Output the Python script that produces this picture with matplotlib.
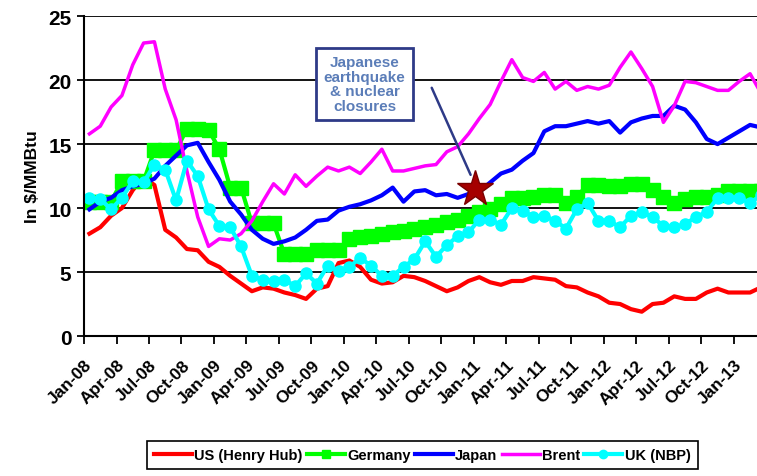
import numpy as np
import matplotlib
matplotlib.use('Agg')
import matplotlib.pyplot as plt

plt.rcParams['font.family'] = ['Liberation Sans', 'DejaVu Sans']

# monthly prices, Jan-08 .. Mar-13 ($/MMBtu)
us_henry_hub = [8.0, 8.5, 9.4, 10.0, 11.4, 12.4, 11.8, 8.3, 7.7, 6.8, 6.7, 5.8,
                5.4, 4.7, 4.1, 3.5, 3.8, 3.7, 3.4, 3.2, 2.9, 3.7, 3.9, 5.7,
                5.9, 5.4, 4.4, 4.1, 4.2, 4.7, 4.6, 4.3, 3.9, 3.5, 3.8, 4.3,
                4.6, 4.2, 4.0, 4.3, 4.3, 4.6, 4.5, 4.4, 3.9, 3.8, 3.4, 3.1,
                2.6, 2.5, 2.1, 1.9, 2.5, 2.6, 3.1, 2.9, 2.9, 3.4, 3.7, 3.4,
                3.4, 3.4, 3.8]
germany = [10.5, 10.5, 10.5, 12.1, 12.1, 12.1, 14.5, 14.5, 14.5, 16.2, 16.2, 16.1,
           14.6, 11.6, 11.6, 8.8, 8.8, 8.8, 6.4, 6.4, 6.4, 6.7, 6.7, 6.7,
           7.6, 7.7, 7.8, 8.0, 8.1, 8.2, 8.4, 8.5, 8.7, 8.9, 9.1, 9.4,
           9.7, 9.9, 10.3, 10.8, 10.8, 10.9, 11.0, 11.0, 10.4, 10.9, 11.8, 11.8,
           11.7, 11.7, 11.9, 11.9, 11.4, 10.9, 10.4, 10.7, 10.9, 10.9, 11.0, 11.3,
           11.3, 11.3, 11.3]
japan = [9.9, 10.5, 10.8, 11.4, 11.7, 11.9, 12.3, 13.3, 14.1, 14.9, 15.1, 13.6,
         12.2, 10.5, 9.5, 8.3, 7.6, 7.2, 7.4, 7.7, 8.3, 9.0, 9.1, 9.8,
         10.1, 10.3, 10.6, 11.0, 11.6, 10.5, 11.3, 11.4, 11.0, 11.1, 10.8, 11.1,
         11.3, 12.0, 12.7, 13.0, 13.7, 14.3, 16.0, 16.4, 16.4, 16.6, 16.8, 16.6,
         16.8, 15.9, 16.7, 17.0, 17.2, 17.2, 18.0, 17.7, 16.7, 15.4, 15.0, 15.5,
         16.0, 16.5, 16.3]
brent = [15.8, 16.4, 17.9, 18.8, 21.2, 22.9, 23.0, 19.3, 16.9, 12.9, 9.3, 7.0,
         7.6, 7.5, 8.0, 9.0, 10.5, 11.9, 11.1, 12.6, 11.7, 12.5, 13.2, 12.9,
         13.2, 12.7, 13.6, 14.6, 12.9, 12.9, 13.1, 13.3, 13.4, 14.4, 14.8, 15.8,
         17.0, 18.1, 19.9, 21.6, 20.2, 19.9, 20.6, 19.3, 19.9, 19.2, 19.5, 19.3,
         19.6, 21.0, 22.2, 20.9, 19.5, 16.7, 18.0, 19.9, 19.8, 19.5, 19.2, 19.2,
         19.9, 20.5, 19.0]
uk_nbp = [10.8, 10.7, 9.9, 10.8, 12.1, 12.0, 13.4, 13.0, 10.6, 13.7, 12.5, 9.9,
          8.6, 8.5, 7.0, 4.7, 4.4, 4.3, 4.4, 3.9, 4.9, 4.1, 5.5, 5.1,
          5.4, 6.1, 5.5, 4.7, 4.7, 5.4, 6.0, 7.4, 6.2, 7.1, 7.8, 8.1,
          9.1, 9.1, 8.7, 10.0, 9.8, 9.3, 9.4, 9.0, 8.4, 9.9, 10.4, 9.0,
          9.0, 8.5, 9.4, 9.7, 9.3, 8.6, 8.5, 8.75, 9.3, 9.7, 10.8, 10.8,
          10.8, 10.4, 11.0]

tick_labels = ['Jan-08', 'Apr-08', 'Jul-08', 'Oct-08', 'Jan-09', 'Apr-09', 'Jul-09',
               'Oct-09', 'Jan-10', 'Apr-10', 'Jul-10', 'Oct-10', 'Jan-11', 'Apr-11',
               'Jul-11', 'Oct-11', 'Jan-12', 'Apr-12', 'Jul-12', 'Oct-12', 'Jan-13']

# earthquake marker (month index, price)
event_month = 35.6
event_value = 11.5
event_text = 'Japanese\nearthquake\n& nuclear\nclosures'

months = np.arange(len(us_henry_hub))

fig = plt.figure(figsize=(7.57, 4.77), dpi=100)
ax = fig.add_axes([0.111, 0.2935, 0.889, 0.6705])

ax.plot(months, us_henry_hub, color='#FF0000', lw=3, label='US (Henry Hub)')
ax.plot(months, germany, color='#00FF00', lw=3, marker='s', ms=10, label='Germany')
ax.plot(months, japan, color='#0000FF', lw=3, label='Japan')
ax.plot(months, brent, color='#FF00FF', lw=2.5, label='Brent')
ax.plot(months, uk_nbp, color='#00FFFF', lw=3, marker='o', ms=8, label='UK (NBP)')

ax.plot(event_month, event_value, marker='*', ms=27, color='#A50000',
        markeredgecolor='#7A0000', zorder=5)

ax.set_ylim(0, 25)
ax.set_xlim(-0.5, 61.64)
ax.set_yticks([0, 5, 10, 15, 20, 25])
ax.set_xticks(np.arange(0, 61, 3) - 0.5)
ax.set_xticklabels(tick_labels, rotation=45, ha='right', rotation_mode='anchor',
                   fontsize=12.5, fontweight='bold')
for t in ax.get_yticklabels():
    t.set_fontsize(15)
    t.set_fontweight('bold')
ax.grid(axis='y', color='black', lw=1.3)
ax.set_axisbelow(True)
ax.tick_params(axis='x', length=6, width=1.3, pad=9)
ax.tick_params(axis='y', length=5, width=1.3, pad=4)
for s in ['top', 'right']:
    ax.spines[s].set_visible(False)
ax.spines['left'].set_linewidth(1.5)
ax.spines['bottom'].set_linewidth(1.5)
ax.set_ylabel('In $/MMBtu', fontsize=12.5, fontweight='bold', labelpad=6)

# callout
ax.annotate('', xy=(35.3, 12.4), xytext=(31.5, 19.6),
            arrowprops=dict(arrowstyle='-', color='#2E3A87', lw=1.8))
ax.text(25.4, 19.7, event_text, ha='center', va='center', fontsize=11,
        fontweight='bold', color='#5B7DB8', linespacing=1.05,
        bbox=dict(boxstyle='square,pad=0.5', fc='white', ec='#2E3A87', lw=2))

leg = fig.legend(loc='center', bbox_to_anchor=(0.558, 0.044), ncol=5,
                 fancybox=False, edgecolor='black', framealpha=1,
                 handlelength=2.6, handletextpad=0.15, columnspacing=0.3,
                 borderpad=0.5, prop={'weight': 'bold', 'size': 10.5})
leg.get_frame().set_linewidth(1.2)
for h in leg.legend_handles:
    h.set_markersize(6)

fig.savefig('out.png', dpi=100)
